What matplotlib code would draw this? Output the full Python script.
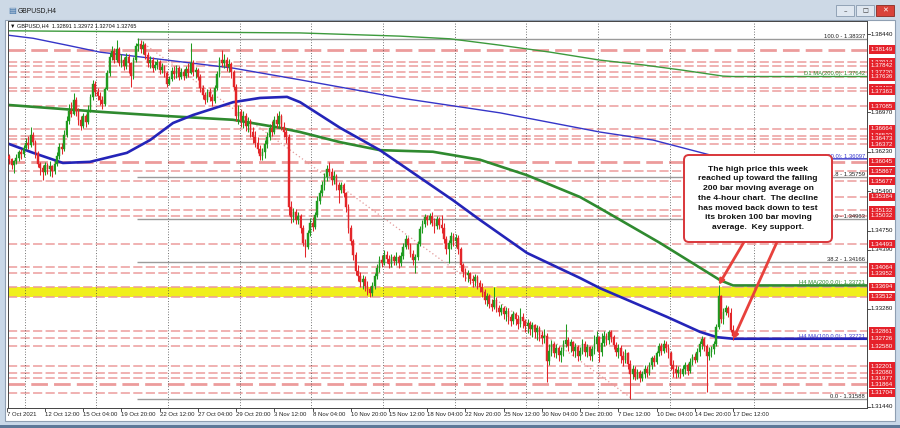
import matplotlib
matplotlib.use("Agg")
import matplotlib.pyplot as plt
import matplotlib.transforms as mtrans
from matplotlib.patches import Rectangle, FancyBboxPatch

W, H, DPI = 900, 428, 100

# ---------------- DATA ----------------
# H4 candles, values in pips above 1.3000 ; first bar index on the chart
FIRST_BAR = 5
FIRST_OPEN = 612
CLOSE = [615,610,598,605,612,622,618,630,640,636,
         655,642,620,600,592,585,598,590,596,586,
         600,615,632,628,655,680,700,694,720,700,
         682,672,690,678,700,725,750,735,728,720,
         712,740,770,800,812,795,815,790,796,784,
         800,790,765,795,822,826,815,824,805,790,
         796,780,786,792,776,782,770,750,760,775,
         768,780,764,772,766,778,770,790,772,776,
         764,742,730,720,735,726,718,742,768,795,
         790,796,782,788,772,745,690,698,680,690,
         672,680,660,650,640,628,615,622,638,650,
         668,660,682,676,690,670,660,650,520,500,
         510,495,502,480,452,445,470,490,482,505,
         530,546,560,575,590,585,570,578,560,552,
         560,545,520,480,455,430,400,390,378,385,
         372,365,358,372,390,405,420,415,430,422,
         412,425,418,426,414,428,445,460,448,432,
         420,425,450,478,488,500,494,502,490,484,
         496,486,480,460,440,452,465,455,462,440,
         410,398,392,395,385,380,388,376,370,360,
         345,352,338,332,345,330,322,330,318,
         325,312,305,318,310,300,312,305,296,302,
         290,298,285,292,280,274,278,230,250,262,
         245,255,242,250,262,270,258,266,250,256,
         240,250,262,248,256,240,252,262,275,248,
         265,278,270,285,275,260,248,255,240,232,
         245,225,205,215,200,210,198,205,215,208,
         222,235,228,245,258,250,262,255,245,222,
         215,208,214,206,215,222,212,228,238,232,
         248,262,272,258,240,248,252,262,295,352,
         310,322,330,320,289.1,276.5]
HIGH = [622,618,612,608,618,626,628,635,648,652,
        669,660,646,625,604,598,604,602,606,598,
        606,622,640,640,664,690,712,716,733,725,
        705,690,696,694,710,732,758,755,742,735,
        728,745,776,808,822,818,833,820,806,800,
        808,806,792,800,828,837,832,830,828,810,
        802,800,794,798,796,790,786,775,766,782,
        784,786,784,780,778,784,790,827,795,782,
        780,768,748,736,740,742,732,748,774,801,
        814,806,800,798,792,776,750,710,704,700,
        696,688,684,670,662,650,636,630,645,660,
        676,680,690,696,700,694,678,668,656,530,
        518,515,510,506,486,460,476,498,500,510,
        540,552,568,584,598,604,592,586,582,566,
        566,564,548,525,486,460,435,410,398,392,
        390,380,372,378,396,412,428,430,439,436,
        430,432,430,434,430,434,452,466,463,452,
        438,432,456,484,495,506,504,508,510,498,
        502,500,505,490,465,458,472,470,468,466,
        444,414,404,402,398,392,394,392,382,376,
        365,358,356,346,370,350,336,338,334,
        332,330,318,324,322,316,330,320,310,310,
        306,304,300,298,296,286,290,282,262,270,
        266,262,258,256,270,300,276,272,268,264,
        260,256,272,268,262,258,258,280,286,278,
        282,286,282,289,289,280,266,262,260,250,
        252,248,232,222,220,216,214,212,222,220,
        228,240,242,250,264,264,270,268,262,250,
        232,222,220,218,222,228,226,236,244,246,
        254,268,278,276,262,256,258,268,300,373,
        355,330,336,334,330,297.2]
LOW = [608,600,590,583,600,606,610,614,626,628,
       632,636,612,595,580,570,580,582,578,575,
       582,596,610,618,625,650,676,688,692,690,
       674,664,668,670,675,698,720,728,720,710,
       704,708,738,765,795,790,792,784,782,776,
       778,770,745,760,792,812,808,806,798,782,
       780,772,776,778,768,770,764,745,748,756,
       760,762,758,760,758,762,764,768,766,762,
       758,735,722,712,716,718,708,714,738,764,
       782,780,774,772,762,738,680,675,670,668,
       662,660,650,640,632,620,608,608,612,630,
       646,652,656,668,670,664,650,640,505,490,
       492,488,488,470,446,426,440,465,474,478,
       500,525,540,552,568,578,560,562,552,527,
       545,538,510,470,448,420,392,380,370,366,
       362,355,351,352,366,385,398,406,410,414,
       404,406,410,410,404,408,422,440,440,425,
       410,396,420,446,470,482,486,488,484,470,
       478,478,470,452,432,414,440,446,444,432,
       400,388,380,378,374,370,372,366,360,350,
       338,334,330,325,328,322,314,316,310,
       306,300,296,300,298,290,294,292,285,282,
       280,276,274,270,268,262,265,190,222,240,
       238,236,230,228,240,256,250,248,240,238,
       230,232,244,240,238,232,230,244,250,228,
       240,258,260,262,266,252,240,236,226,220,
       226,215,159,196,194,196,190,192,198,200,
       204,216,220,224,240,242,246,248,236,214,
       200,198,200,198,202,206,204,208,222,226,
       228,240,252,250,172,232,238,244,258,290,
       302,300,316,312,285,270.4]

# Moving averages (bar index, pips above 1.3000)
MA_H4_100_X = [5.1,16,28.5,39.8,55.3,65,74.6,83,99.7,111,122.3,127.8,144.5,161.2,191.8,203.1,222.8,245,253.3,281.4,295.2,302.3,309]
MA_H4_100_Y = [639,621,602,604,621,645,677,692,716,724,726,716,668,626,532,495,433,386,367,313,285,275,272.1]
MA_H4_200_X = [5.1,44,72.1,99.7,118.1,127.8,144.5,161.2,183.4,203.1,222.8,245,253.3,278.4,303.6,309]
MA_H4_200_Y = [711,698,690,683,669,660,641,626,623,608,579,538,517,452,382,372.1]
MA_H1_100_X = [5.1,16,30.2,44,72.1,99.7,127.8,169.6,211.5,253.3,275.5,299.4,309]
MA_H1_100_Y = [842,836,823,810,795,780,758,724,696,660,645,617,609.7]
MA_D1_200_X = [5.1,127.8,169.6,190.5,211.5,232.4,253.3,271.3,288.1,304.8,309]
MA_D1_200_Y = [850,846,840,835,823,810,795,786,776,765,764.2]
MA_LABELS = [("D1 MA(200,0): 1.37642", 1.37642, "#2e8b2e"),
             ("H1 MA(100,0): 1.36097", 1.36097, "#3a3ad0"),
             ("H4 MA(200,0,0): 1.33721", 1.33721, "#2e8b2e"),
             ("H4 MA(100,0,0): 1.32721", 1.32721, "#3a3ad0")]

RED_LEVELS = [1.38149, 1.37914, 1.37842, 1.37720, 1.37636, 1.37420, 1.37363, 1.37085,
              1.36664, 1.36532, 1.36473, 1.36372, 1.36045, 1.35867, 1.35677, 1.35384,
              1.35132, 1.35032, 1.34493, 1.34064, 1.33952, 1.33694, 1.33512, 1.32861,
              1.32726, 1.32580, 1.32201, 1.32080, 1.31977, 1.31864, 1.31704]
THICK_LEVELS = [1.38149, 1.36045, 1.31864]
AXIS_LEVELS = [1.38440, 1.36970, 1.36230, 1.35490, 1.34750, 1.34390, 1.33280, 1.31440]
FIB_NAMES = ["100.0", "61.8", "50.0", "38.2", "0.0"]
FIB_LEVELS = [1.38337, 1.35759, 1.34963, 1.34166, 1.31588]
FIB_HIGH_BAR, FIB_LOW_BAR = 60, 267
ZONE = (1.33512, 1.33694)

DATE_LABELS = ["7 Oct 2021", "12 Oct 12:00", "15 Oct 04:00", "19 Oct 20:00", "22 Oct 12:00",
               "27 Oct 04:00", "29 Oct 20:00", "3 Nov 12:00", "8 Nov 04:00", "10 Nov 20:00",
               "15 Nov 12:00", "18 Nov 04:00", "22 Nov 20:00", "25 Nov 12:00", "30 Nov 04:00",
               "2 Dec 20:00", "7 Dec 12:00", "10 Dec 04:00", "14 Dec 20:00", "17 Dec 12:00"]
DATE_BARS = [5, 21, 37, 53, 69, 85, 101, 117, 133, 149, 165, 181, 197, 213, 229, 245, 261, 277, 293, 309]
GRID_BARS = [12.5, 42.5, 72.5, 102.5, 132.5, 162.5, 192.5, 222.5, 252.5, 282.5, 318]

NOTE = ("The high price this week\nreached up toward the falling\n200 bar moving average on\n"
        "the 4-hour chart.  The decline\nhas moved back down to test\nits broken 100 bar moving\n"
        "average.  Key support.")
HEADER = "\u25bc GBPUSD,H4  1.32891 1.32972 1.32704 1.32765"

# ---------------- helpers ----------------
def p(v):
    return 1.3 + v / 10000.0

def fx(x):
    return x / W

def fy(y):
    return 1 - y / H

LAB = "Liberation Sans"
fig = plt.figure(figsize=(W / DPI, H / DPI), dpi=DPI)
fig.patch.set_facecolor("#c9d8e8")

# window chrome (behind the axes)
def chrome_rect(x0, y0, x1, y1, **kw):
    fig.add_artist(Rectangle((fx(x0), fy(y1)), fx(x1 - x0), (y1 - y0) / H,
                             transform=fig.transFigure, zorder=-5, **kw))

chrome_rect(0, 0, 900, 20, fc="#cdd9e6", ec="none")
chrome_rect(5, 20, 895, 421, fc="white", ec="#8f9fb2", lw=0.8)
chrome_rect(0, 425, 900, 428, fc="#5d7898", ec="none")
chrome_rect(836, 5, 854, 16, fc="#dfe7f0", ec="#8799ae", lw=0.6)
chrome_rect(856, 5, 874, 16, fc="#dfe7f0", ec="#8799ae", lw=0.6)
chrome_rect(876, 5, 894, 16, fc="#d9433a", ec="#8a2a22", lw=0.6)
fig.text(fx(8), fy(10.5), "\u25a4", fontsize=6, color="#3a6ea5", va="center", ha="left")
fig.text(fx(18), fy(10.5), "GBPUSD,H4", fontsize=4.9, family=LAB, va="center", ha="left", color="#1a1a1a")
fig.text(fx(885), fy(10.5), "\u2715", fontsize=5, color="white", ha="center", va="center")
fig.text(fx(845), fy(11), "\u2013", fontsize=5, color="#333", ha="center", va="center")
fig.text(fx(865), fy(10.5), "\u25a1", fontsize=4.5, color="#333", ha="center", va="center")

# main axes
ax = fig.add_axes([fx(7.5), fy(408), fx(867 - 7.5), (408 - 21) / H])
ax.set_zorder(5)
ax.set_facecolor("white")
XMIN, XMAX = 5.3, 365.1
ax.set_xlim(XMIN, XMAX)
ax.set_ylim(1.31421, 1.38684)
ax.set_xticks([])
ax.set_yticks([])
for s in ax.spines.values():
    s.set_color("#444444")
    s.set_linewidth(0.7)

# zone and levels
ax.axhspan(ZONE[0], ZONE[1], color="#f0ef1c", zorder=0.5, lw=0)
for lv in RED_LEVELS:
    ax.axhline(lv, color="#ec9c9c", lw=2.0 if lv in THICK_LEVELS else 1.1,
               dashes=(6, 2.2), zorder=1)
for g in GRID_BARS:
    ax.axvline(g, color="#444444", lw=0.6, ls=(0, (1, 2.2)), zorder=1.2)
ax.hlines(FIB_LEVELS, FIB_HIGH_BAR - 0.5, XMAX, color="#9a9a9a", lw=1.0, zorder=1.3)
ax.plot([FIB_HIGH_BAR, FIB_LOW_BAR], [FIB_LEVELS[0], FIB_LEVELS[-1]], color="#e39a9a",
        lw=0.9, ls=(0, (1, 2)), zorder=1.4)
for name, lv in zip(FIB_NAMES, FIB_LEVELS):
    ax.text(XMAX - 0.8, lv + 0.00004, f"{name} - {lv:.5f}", ha="right", va="bottom",
            fontsize=4.2, family=LAB, color="#202020", zorder=6)

# moving averages (extended flat to the right edge)
def ma(xs, ys, color, lw):
    X = list(xs) + [XMAX]
    Y = [p(v) for v in ys] + [p(ys[-1])]
    ax.plot(X, Y, color=color, lw=lw, zorder=2, solid_capstyle="butt")

ma(MA_D1_200_X, MA_D1_200_Y, "#3c9a3c", 1.0)
ma(MA_H1_100_X, MA_H1_100_Y, "#3535c8", 1.0)
ma(MA_H4_200_X, MA_H4_200_Y, "#2f8a2f", 1.9)
ma(MA_H4_100_X, MA_H4_100_Y, "#2424b8", 1.9)
for txt, lv, col in MA_LABELS:
    ax.text(XMAX - 0.8, lv + 0.00004, txt, ha="right", va="bottom", fontsize=4.2,
            family=LAB, color=col, zorder=6)

# candles
n = len(CLOSE)
assert n == len(HIGH) == len(LOW)
opens = [FIRST_OPEN] + CLOSE[:-1]
xs = [FIRST_BAR + k for k in range(n)]
up_c, dn_c = "#1f9a1f", "#e3262a"
cols = [up_c if c >= o else dn_c for o, c in zip(opens, CLOSE)]
ax.vlines(xs, [p(v) for v in LOW], [p(v) for v in HIGH], colors=cols, lw=0.75, zorder=3)
bottoms = [p(min(o, c)) for o, c in zip(opens, CLOSE)]
heights = [max(abs(c - o), 0.8) / 10000.0 for o, c in zip(opens, CLOSE)]
ax.bar(xs, heights, bottom=bottoms, width=0.72, color=cols, edgecolor=cols, lw=0.3, zorder=3.5)

# header text
ax.text(fx(10), fy(26), HEADER, transform=fig.transFigure, fontsize=4.0, family=LAB,
        color="#111111", va="center", ha="left", zorder=7)

# right price scale
bt = mtrans.blended_transform_factory(fig.transFigure, ax.transData)
for lv in AXIS_LEVELS:
    ax.text(fx(871), lv, f"{lv:.5f}", transform=bt, fontsize=4.4, family=LAB, color="#111111",
            va="center", ha="left", clip_on=False)
    ax.plot([fx(867), fx(869.5)], [lv, lv], transform=bt, color="#333", lw=0.6, clip_on=False)
for lv in RED_LEVELS:
    ax.text(fx(871), lv, f"{lv:.5f}", transform=bt, fontsize=4.4, family=LAB, color="white",
            va="center", ha="left", clip_on=False, zorder=10,
            bbox=dict(boxstyle="square,pad=0.25", fc="#e5212a", ec="none"))

# date labels
bx = mtrans.blended_transform_factory(ax.transData, fig.transFigure)
for lbl, b in zip(DATE_LABELS, DATE_BARS):
    ax.text(b, fy(415), lbl, transform=bx, fontsize=4.3, family=LAB, color="#222222",
            va="center", ha="left", clip_on=False)
    ax.plot([b, b], [fy(408), fy(410.5)], transform=bx, color="#333", lw=0.6, clip_on=False)

# annotation box and arrows
fig.add_artist(FancyBboxPatch((684, H - 242), 148, 87, boxstyle="round,pad=0,rounding_size=5",
                              transform=mtrans.IdentityTransform(), fc="white", ec="#d9363a",
                              lw=1.4, zorder=20))
fig.text(fx(758), fy(198.5), NOTE, ha="center", va="center", fontsize=6.1, fontweight="bold",
         family=LAB, linespacing=1.55, color="#111111", zorder=21)
arrow_kw = dict(arrowstyle="-|>", color="#e8413c", lw=2.0, mutation_scale=7, shrinkA=0, shrinkB=0)
ax.annotate("", xy=(FIRST_BAR + 298, p(HIGH[298])), xytext=(fx(744), fy(242)),
            textcoords="figure fraction", arrowprops=arrow_kw, zorder=19)
ax.annotate("", xy=(FIRST_BAR + n - 1, p(LOW[-1])), xytext=(fx(777), fy(242)),
            textcoords="figure fraction", arrowprops=arrow_kw, zorder=19)

fig.savefig("out.png", dpi=DPI)
